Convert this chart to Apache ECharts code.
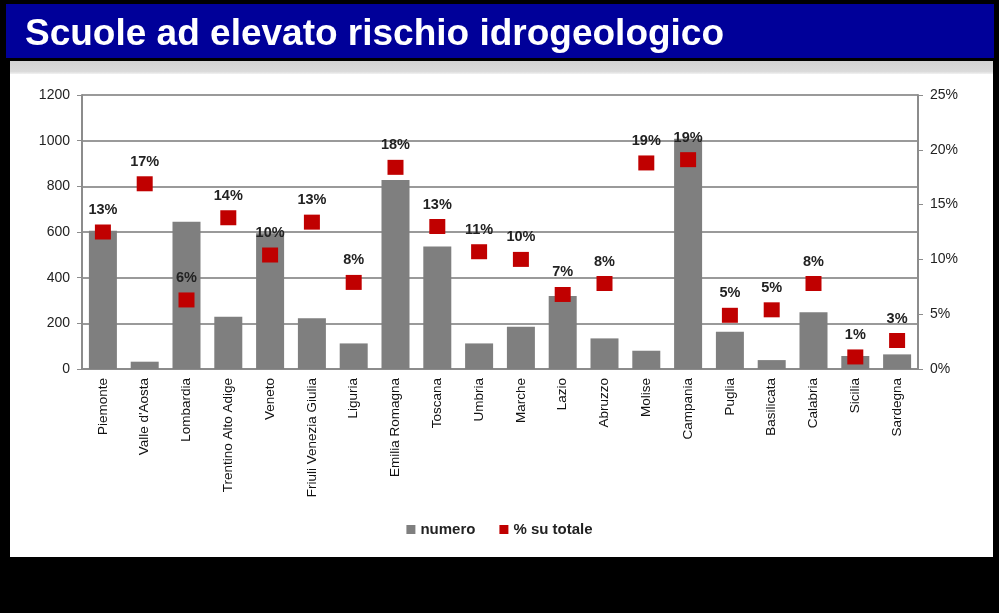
<!DOCTYPE html>
<html>
<head>
<meta charset="utf-8">
<script src="https://cdn.jsdelivr.net/npm/echarts@6/dist/echarts.min.js"></script>
<style>
  html, body { margin: 0; padding: 0; background: #000; }
  #chart { width: 999px; height: 613px; }
</style>
</head>
<body>
<div id="chart"></div>
<script>
const regioni = ['Piemonte', "Valle d'Aosta", 'Lombardia', 'Trentino Alto Adige', 'Veneto',
  'Friuli Venezia Giulia', 'Liguria', 'Emilia Romagna', 'Toscana', 'Umbria', 'Marche', 'Lazio',
  'Abruzzo', 'Molise', 'Campania', 'Puglia', 'Basilicata', 'Calabria', 'Sicilia', 'Sardegna']
const numero = [605, 32, 645, 229, 595, 222, 112, 828, 536, 112, 185, 320, 134, 80, 1008, 163, 39, 248, 57, 64]
const percentuale = [12.5, 16.9, 6.3, 13.8, 10.4, 13.4, 7.9, 18.4, 13.0, 10.7, 10.0, 6.8, 7.8, 18.8, 19.1, 4.9, 5.4, 7.8, 1.1, 2.6]
const ticksSx = [0, 1200, 200]
const ticksDx = [0, 25, 5]

const font = 'Arial, "Liberation Sans", sans-serif'
const chart = echarts.init(document.getElementById('chart'))

chart.setOption({
  backgroundColor: '#000',
  animation: false,
  textStyle: { fontFamily: font },
  graphic: [
    { type: 'rect', shape: { x: 6, y: 4, width: 988, height: 54 }, style: { fill: '#000099' } },
    { type: 'rect', shape: { x: 10, y: 61, width: 983, height: 496 }, style: { fill: '#fff' } },
    {
      type: 'rect', shape: { x: 10, y: 61, width: 983, height: 13 },
      style: {
        fill: new echarts.graphic.LinearGradient(0, 0, 0, 1, [
          { offset: 0, color: '#d2d2d2' }, { offset: 0.8, color: '#dadada' }, { offset: 1, color: '#f2f2f2' }
        ])
      }
    }
  ],
  title: {
    text: 'Scuole ad elevato rischio idrogeologico',
    left: 20,
    top: 11,
    textStyle: { color: '#fff', fontSize: 37, fontWeight: 'bold', fontFamily: font }
  },
  legend: {
    data: ['numero', '% su totale'],
    left: 'center',
    top: 517,
    icon: 'rect',
    itemWidth: 9,
    itemHeight: 9,
    itemGap: 24,
    textStyle: { fontSize: 15, fontWeight: 'bold', color: '#222', fontFamily: font }
  },
  grid: { left: 82, right: 81, top: 95, bottom: 244 },
  xAxis: {
    type: 'category',
    data: regioni,
    axisLine: { lineStyle: { color: '#8c8c8c', width: 2 } },
    axisTick: { length: 5, lineStyle: { color: '#8c8c8c', width: 1.5 } },
    axisLabel: { rotate: 90, fontSize: 13.5, color: '#111', margin: 9, interval: 0 }
  },
  yAxis: [
    {
      type: 'value',
      min: ticksSx[0], max: ticksSx[1], interval: ticksSx[2],
      axisLine: { show: true, lineStyle: { color: '#8c8c8c', width: 2 } },
      axisTick: { show: true, length: 5, lineStyle: { color: '#8c8c8c' } },
      axisLabel: { fontSize: 14, color: '#222', margin: 12, formatter: v => String(v) },
      splitLine: { lineStyle: { color: '#9a9a9a', width: 2 } }
    },
    {
      type: 'value',
      min: ticksDx[0], max: ticksDx[1], interval: ticksDx[2],
      axisLine: { show: true, lineStyle: { color: '#8c8c8c', width: 2 } },
      axisTick: { show: true, length: 5, lineStyle: { color: '#8c8c8c' } },
      axisLabel: { fontSize: 14, color: '#222', margin: 12, formatter: '{value}%' },
      splitLine: { show: false }
    }
  ],
  series: [
    {
      name: 'numero',
      type: 'bar',
      data: numero,
      barWidth: 28,
      itemStyle: { color: '#7f7f7f' }
    },
    {
      name: '% su totale',
      type: 'scatter',
      yAxisIndex: 1,
      data: percentuale,
      symbol: 'rect',
      symbolSize: [16, 15],
      itemStyle: { color: '#c00000', opacity: 1 },
      label: {
        show: true,
        position: 'top',
        distance: 7,
        fontSize: 14.5,
        fontWeight: 'bold',
        color: '#222',
        formatter: p => Math.round(p.value) + '%'
      }
    }
  ]
})
</script>
</body>
</html>
